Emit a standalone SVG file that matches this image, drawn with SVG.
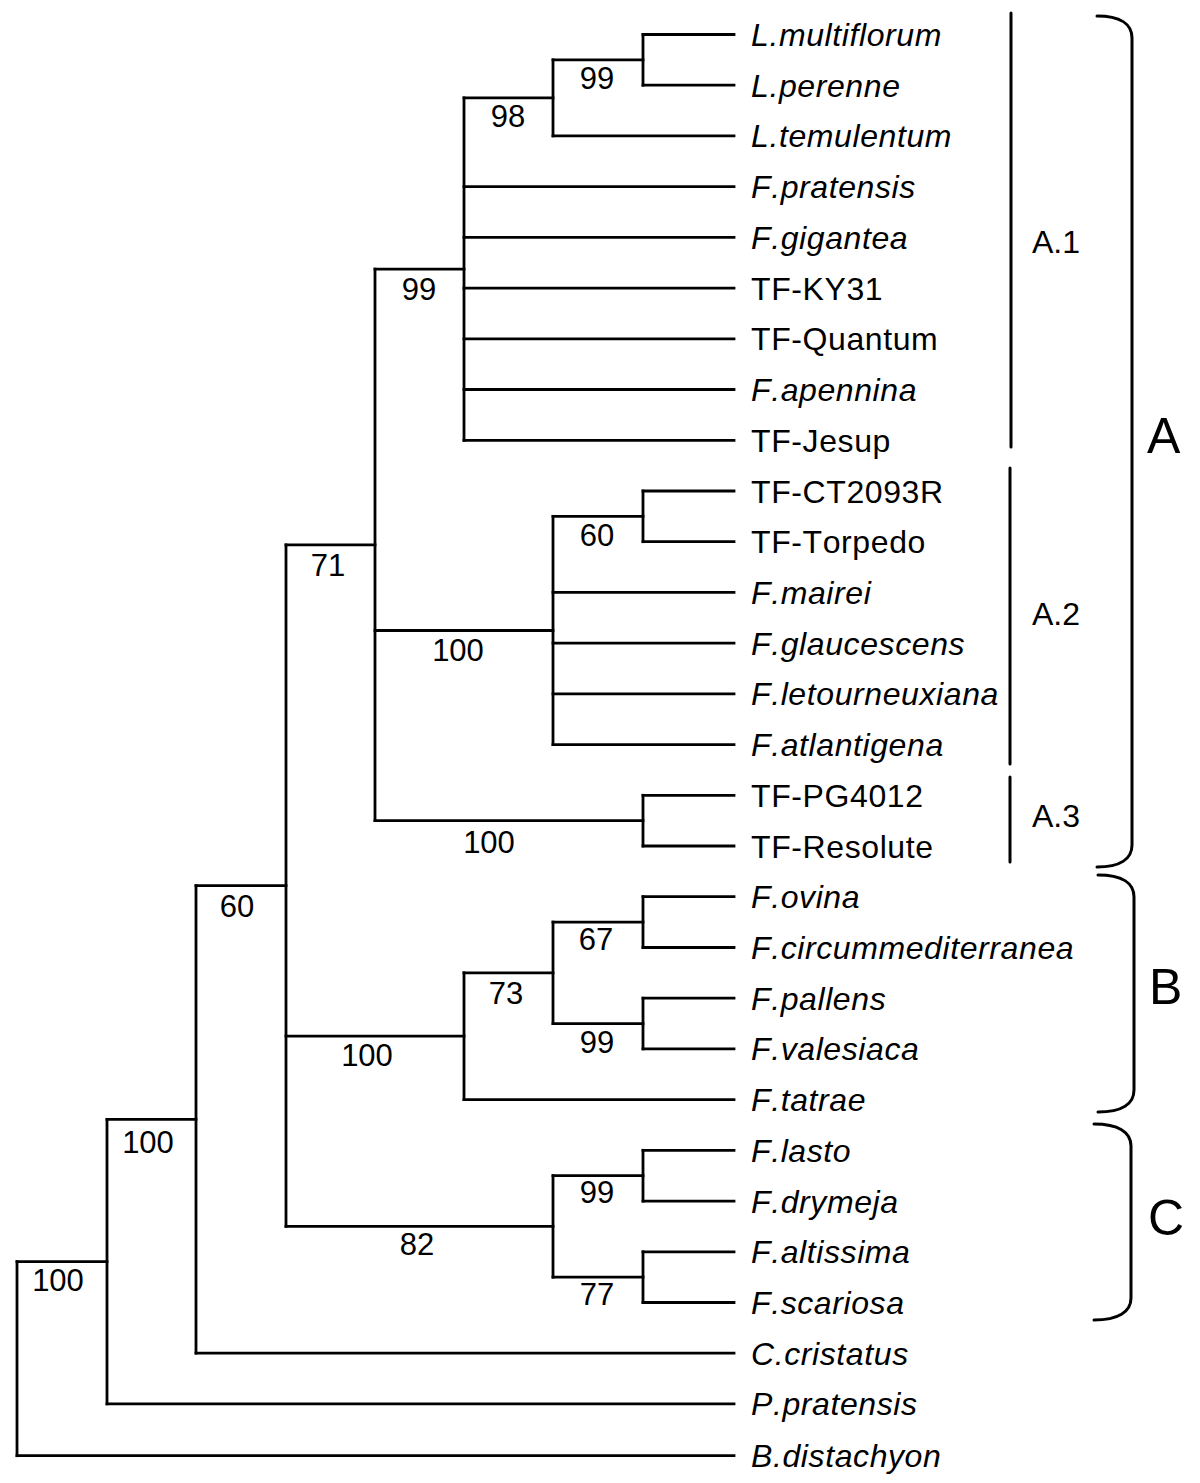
<svg xmlns="http://www.w3.org/2000/svg" width="1200" height="1483" viewBox="0 0 1200 1483">
<style>
.br{fill:none;stroke:#000;stroke-width:2.8;stroke-linecap:square}
.grp{fill:none;stroke:#000;stroke-width:3;stroke-linecap:round}
.lf{font-family:"Liberation Sans",Arial,sans-serif;font-size:32px;fill:#000;font-kerning:none;letter-spacing:0.6px}
.it{font-style:italic}
.bs{font-family:"Liberation Sans",Arial,sans-serif;font-size:31px;fill:#000;text-anchor:middle}
.gl{font-family:"Liberation Sans",Arial,sans-serif;font-size:32px;fill:#000}
.big{font-family:"Liberation Sans",Arial,sans-serif;font-size:50px;fill:#000}
</style>
<rect width="1200" height="1483" fill="#fff"/>
<g id="connectors" class="br">
<path d="M643,34.5V85.2"/>
<path d="M553,59.85V135.9"/>
<path d="M464,97.9V440.3"/>
<path d="M643,491V541.7"/>
<path d="M553,516.35V744.6"/>
<path d="M643,795.3V846"/>
<path d="M375,269.1V820.65"/>
<path d="M643,896.7V947.5"/>
<path d="M643,998.2V1048.9"/>
<path d="M553,922.1V1023.55"/>
<path d="M464,972.8V1099.6"/>
<path d="M643,1150.3V1201.1"/>
<path d="M643,1251.8V1302.5"/>
<path d="M553,1175.7V1277.15"/>
<path d="M286,544.9V1226.4"/>
<path d="M196,885.65V1353.2"/>
<path d="M107,1119.4V1403.9"/>
<path d="M17,1261.65V1455.7"/>
<path d="M553,59.85H643"/>
<path d="M464,97.9H553"/>
<path d="M375,269.1H464"/>
<path d="M553,516.35H643"/>
<path d="M375,630.5H553"/>
<path d="M375,820.65H643"/>
<path d="M286,544.9H375"/>
<path d="M553,922.1H643"/>
<path d="M553,1023.55H643"/>
<path d="M464,972.8H553"/>
<path d="M286,1036.2H464"/>
<path d="M553,1175.7H643"/>
<path d="M553,1277.15H643"/>
<path d="M286,1226.4H553"/>
<path d="M196,885.65H286"/>
<path d="M107,1119.4H196"/>
<path d="M17,1261.65H107"/>
<path d="M643,34.5H734"/>
<path d="M643,85.2H734"/>
<path d="M553,135.9H734"/>
<path d="M464,186.7H734"/>
<path d="M464,237.4H734"/>
<path d="M464,288.1H734"/>
<path d="M464,338.8H734"/>
<path d="M464,389.5H734"/>
<path d="M464,440.3H734"/>
<path d="M643,491H734"/>
<path d="M643,541.7H734"/>
<path d="M553,592.4H734"/>
<path d="M553,643.1H734"/>
<path d="M553,693.9H734"/>
<path d="M553,744.6H734"/>
<path d="M643,795.3H734"/>
<path d="M643,846H734"/>
<path d="M643,896.7H734"/>
<path d="M643,947.5H734"/>
<path d="M643,998.2H734"/>
<path d="M643,1048.9H734"/>
<path d="M464,1099.6H734"/>
<path d="M643,1150.3H734"/>
<path d="M643,1201.1H734"/>
<path d="M643,1251.8H734"/>
<path d="M643,1302.5H734"/>
<path d="M196,1353.2H734"/>
<path d="M107,1403.9H734"/>
<path d="M17,1455.7H734"/>
</g>
<g id="leaves">
<text id="t0" class="lf it" x="751" y="46">L.multiflorum</text>
<text id="t1" class="lf it" x="751" y="96.7">L.perenne</text>
<text id="t2" class="lf it" x="751" y="147.4">L.temulentum</text>
<text id="t3" class="lf it" x="751" y="198.2">F.pratensis</text>
<text id="t4" class="lf it" x="751" y="248.9">F.gigantea</text>
<text id="t5" class="lf" x="751" y="299.6">TF-KY31</text>
<text id="t6" class="lf" x="751" y="350.3">TF-Quantum</text>
<text id="t7" class="lf it" x="751" y="401">F.apennina</text>
<text id="t8" class="lf" x="751" y="451.8">TF-Jesup</text>
<text id="t9" class="lf" x="751" y="502.5">TF-CT2093R</text>
<text id="t10" class="lf" x="751" y="553.2">TF-Torpedo</text>
<text id="t11" class="lf it" x="751" y="603.9">F.mairei</text>
<text id="t12" class="lf it" x="751" y="654.6">F.glaucescens</text>
<text id="t13" class="lf it" x="751" y="705.4">F.letourneuxiana</text>
<text id="t14" class="lf it" x="751" y="756.1">F.atlantigena</text>
<text id="t15" class="lf" x="751" y="806.8">TF-PG4012</text>
<text id="t16" class="lf" x="751" y="857.5">TF-Resolute</text>
<text id="t17" class="lf it" x="751" y="908.2">F.ovina</text>
<text id="t18" class="lf it" x="751" y="959">F.circummediterranea</text>
<text id="t19" class="lf it" x="751" y="1009.7">F.pallens</text>
<text id="t20" class="lf it" x="751" y="1060.4">F.valesiaca</text>
<text id="t21" class="lf it" x="751" y="1111.1">F.tatrae</text>
<text id="t22" class="lf it" x="751" y="1161.8">F.lasto</text>
<text id="t23" class="lf it" x="751" y="1212.6">F.drymeja</text>
<text id="t24" class="lf it" x="751" y="1263.3">F.altissima</text>
<text id="t25" class="lf it" x="751" y="1314">F.scariosa</text>
<text id="t26" class="lf it" x="751" y="1364.7">C.cristatus</text>
<text id="t27" class="lf it" x="751" y="1415.4">P.pratensis</text>
<text id="t28" class="lf it" x="751" y="1467.2">B.distachyon</text>
</g>
<g id="support">
<text class="bs" x="597" y="89">99</text>
<text class="bs" x="508" y="127">98</text>
<text class="bs" x="419" y="300">99</text>
<text class="bs" x="328" y="576">71</text>
<text class="bs" x="458" y="661">100</text>
<text class="bs" x="597" y="546">60</text>
<text class="bs" x="489" y="853">100</text>
<text class="bs" x="237" y="917">60</text>
<text class="bs" x="596" y="950">67</text>
<text class="bs" x="506" y="1004">73</text>
<text class="bs" x="597" y="1053">99</text>
<text class="bs" x="367" y="1066">100</text>
<text class="bs" x="597" y="1203">99</text>
<text class="bs" x="417" y="1255">82</text>
<text class="bs" x="597" y="1305">77</text>
<text class="bs" x="148" y="1153">100</text>
<text class="bs" x="58" y="1291">100</text>
</g>
<g id="group-A1">
<path class="grp" d="M1011,13V447"/>
<text class="gl" x="1032" y="253">A.1</text>
</g>
<g id="group-A2">
<path class="grp" d="M1010,468V764"/>
<text class="gl" x="1032" y="625">A.2</text>
</g>
<g id="group-A3">
<path class="grp" d="M1010,777V862"/>
<text class="gl" x="1032" y="827">A.3</text>
</g>
<g id="clade-A">
<path class="grp" d="M1097,16C1120,16 1132,24 1132,38V845C1132,859 1120,867 1097,867"/>
<text class="big" x="1147" y="453">A</text>
</g>
<g id="clade-B">
<path class="grp" d="M1098,875C1122,875 1134,883 1134,897V1090C1134,1104 1122,1112 1098,1112"/>
<text class="big" x="1149" y="1004">B</text>
</g>
<g id="clade-C">
<path class="grp" d="M1094,1124C1118,1124 1131,1132 1131,1146V1298C1131,1312 1118,1320 1094,1320"/>
<text class="big" x="1148" y="1235">C</text>
</g>
</svg>
